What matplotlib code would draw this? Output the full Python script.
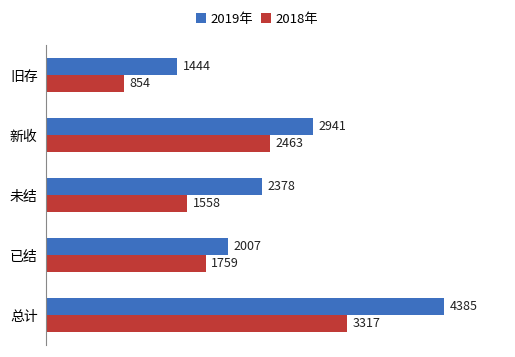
import matplotlib
matplotlib.use('Agg')
import matplotlib.pyplot as plt
import numpy as np

plt.rcParams['font.family'] = ['Noto Sans CJK SC', 'DejaVu Sans']

categories = ['旧存', '新收', '未结', '已结', '总计']
vals_2019 = [1444, 2941, 2378, 2007, 4385]
vals_2018 = [854, 2463, 1558, 1759, 3317]

blue = '#3D70C0'
red = '#C03A36'

fig = plt.figure(figsize=(5.15, 3.57), dpi=100)
ax = fig.add_axes([46 / 515, 1 - 345 / 357, 454 / 515, 300 / 357])

y = np.arange(len(categories))
h = 0.285
b1 = ax.barh(y - h / 2, vals_2019, height=h, color=blue, label='2019年')
b2 = ax.barh(y + h / 2, vals_2018, height=h, color=red, label='2018年')

for bars, vals in [(b1, vals_2019), (b2, vals_2018)]:
    for bar, v in zip(bars, vals):
        ax.text(bar.get_width() + 60, bar.get_y() + bar.get_height() / 2, str(v),
                va='center', ha='left', fontsize=9, color='#222222')

ax.set_xlim(0, 5000)
ax.set_ylim(len(categories) - 0.5, -0.5)
ax.set_yticks(y)
ax.set_yticklabels(categories, fontsize=10)
ax.tick_params(axis='y', length=0, pad=6)
ax.set_xticks([])
for s in ['top', 'right', 'bottom']:
    ax.spines[s].set_visible(False)
ax.spines['left'].set_color('#888888')

fig.legend(loc='upper center', bbox_to_anchor=(0.5, 0.998), ncol=2, frameon=False,
           fontsize=9.5, handlelength=0.7, handleheight=0.7, handletextpad=0.4,
           columnspacing=0.6)

fig.savefig('out.png', dpi=100)
